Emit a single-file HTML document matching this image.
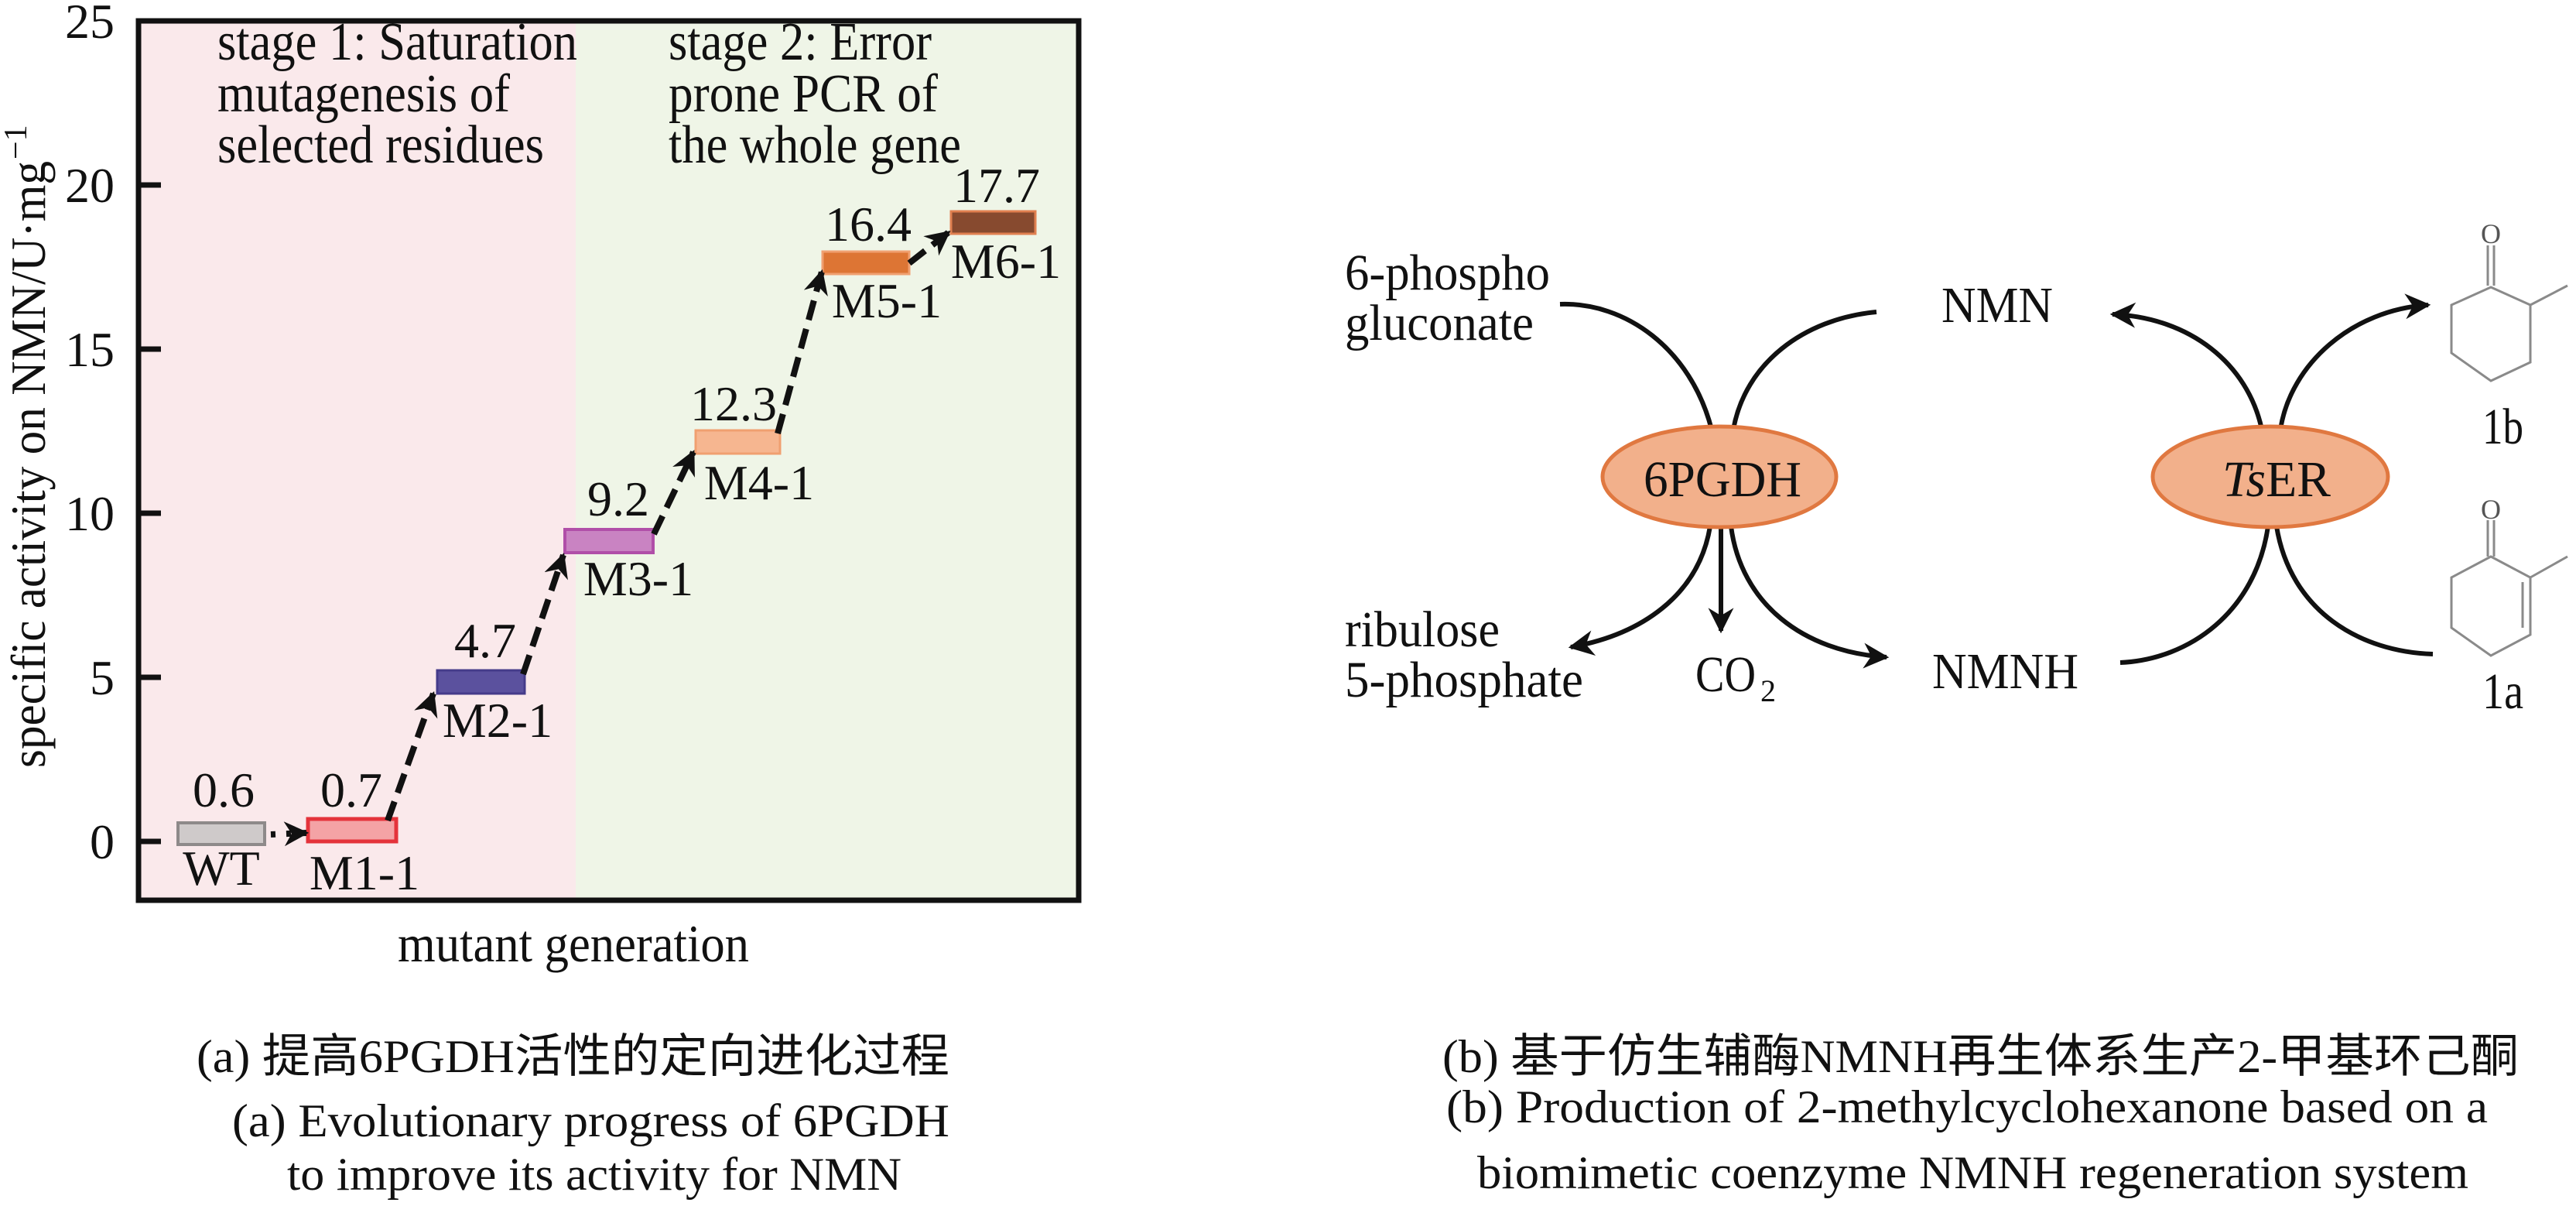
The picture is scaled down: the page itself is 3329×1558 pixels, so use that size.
<!DOCTYPE html>
<html><head><meta charset="utf-8"><style>
html,body{margin:0;padding:0;background:#fff;}
svg{display:block;}
text{font-family:"Liberation Serif","Noto Serif CJK SC",serif;fill:#111;}
.cjk{font-family:"Liberation Serif","Noto Sans CJK SC",serif;}
</style></head><body>
<svg width="3329" height="1558" viewBox="0 0 3329 1558" xmlns="http://www.w3.org/2000/svg">
<defs>
<marker id="ah" viewBox="0 0 10 10" refX="9" refY="5" markerWidth="4" markerHeight="4" orient="auto" markerUnits="strokeWidth">
<path d="M0,0 L10,5 L0,10 L3,5 Z" fill="#111"/></marker>
<marker id="ah2" viewBox="0 0 10 10" refX="9" refY="5" markerWidth="5.5" markerHeight="5.5" orient="auto" markerUnits="strokeWidth">
<path d="M0,0 L10,5 L0,10 L3,5 Z" fill="#111"/></marker>
</defs>
<rect x="180" y="28" width="564" height="1134" fill="#fae9eb"/>
<rect x="744" y="28" width="649" height="1134" fill="#eff5e7"/>
<rect x="179" y="27" width="1215" height="1136" fill="none" stroke="#111" stroke-width="7"/>
<g stroke="#111" stroke-width="7">
<line x1="180" y1="239" x2="208" y2="239"/>
<line x1="180" y1="451" x2="208" y2="451"/>
<line x1="180" y1="663" x2="208" y2="663"/>
<line x1="180" y1="875" x2="208" y2="875"/>
<line x1="180" y1="1087" x2="208" y2="1087"/>
</g>
<g font-size="64" text-anchor="end">
<text x="148" y="49">25</text>
<text x="148" y="261">20</text>
<text x="148" y="473">15</text>
<text x="148" y="685">10</text>
<text x="148" y="897">5</text>
<text x="148" y="1109">0</text>
</g>
<text transform="translate(58,992) rotate(-90)" font-size="64" textLength="784" lengthAdjust="spacingAndGlyphs">specific activity on NMN/U·mg</text>
<text transform="translate(34,206) rotate(-90)" font-size="42">−1</text>
<text x="514" y="1242" font-size="68" textLength="454" lengthAdjust="spacingAndGlyphs">mutant generation</text>
<g font-size="70">
<text x="281" y="77" textLength="465" lengthAdjust="spacingAndGlyphs">stage 1: Saturation</text>
<text x="281" y="144" textLength="378" lengthAdjust="spacingAndGlyphs">mutagenesis of</text>
<text x="281" y="210" textLength="422" lengthAdjust="spacingAndGlyphs">selected residues</text>
<text x="864" y="77" textLength="340" lengthAdjust="spacingAndGlyphs">stage 2: Error</text>
<text x="864" y="144" textLength="348" lengthAdjust="spacingAndGlyphs">prone PCR of</text>
<text x="864" y="210" textLength="378" lengthAdjust="spacingAndGlyphs">the whole gene</text>
</g>
<rect x="230" y="1063" width="112" height="28" fill="#cfcaca" stroke="#8e8a8a" stroke-width="4"/>
<rect x="398" y="1058" width="114" height="29" fill="#f4a3a5" stroke="#e4333b" stroke-width="5"/>
<rect x="565" y="866" width="113" height="30" fill="#5b519e" stroke="#453b8a" stroke-width="3"/>
<rect x="730" y="684" width="114" height="30" fill="#c983c2" stroke="#b04fa8" stroke-width="4"/>
<rect x="899" y="556" width="109" height="30" fill="#f6b690" stroke="#f0a070" stroke-width="3"/>
<rect x="1063" y="325" width="112" height="29" fill="#dd7534" stroke="#f0a070" stroke-width="3"/>
<rect x="1229" y="273" width="109" height="29" fill="#874a2f" stroke="#e08050" stroke-width="3"/>
<g font-size="64" text-anchor="middle">
<text x="289" y="1042">0.6</text>
<text x="454" y="1042">0.7</text>
<text x="627" y="849">4.7</text>
<text x="799" y="666">9.2</text>
<text x="948" y="543">12.3</text>
<text x="1122" y="311">16.4</text>
<text x="1288" y="261">17.7</text>
<text x="286" y="1143">WT</text>
<text x="471" y="1149">M1-1</text>
<text x="643" y="952">M2-1</text>
<text x="825" y="769">M3-1</text>
<text x="981" y="645">M4-1</text>
<text x="1146" y="410">M5-1</text>
<text x="1300" y="359">M6-1</text>
</g>
<g stroke="#111" stroke-width="8" fill="none" stroke-dasharray="26 12" marker-end="url(#ah)">
<line x1="350" y1="1078" x2="396" y2="1076" stroke-dasharray="6 14"/>
<line x1="501" y1="1060" x2="560" y2="896"/>
<line x1="676" y1="871" x2="728" y2="717"/>
<line x1="845" y1="690" x2="896" y2="584"/>
<line x1="1005" y1="560" x2="1062" y2="351"/>
<line x1="1175" y1="340" x2="1226" y2="300"/>
</g>
<g stroke="#111" stroke-width="6" fill="none">
<path d="M2016,393 C2100,390 2185,450 2212,555"/>
<path d="M2425,403 C2330,412 2255,470 2240,555"/>
<path d="M2210,680 C2195,770 2120,820 2030,836" marker-end="url(#ah2)"/>
<path d="M2224,680 L2224,815" marker-end="url(#ah2)"/>
<path d="M2237,680 C2250,780 2330,842 2438,849" marker-end="url(#ah2)"/>
<path d="M2923,555 C2905,470 2830,410 2730,406" marker-end="url(#ah2)"/>
<path d="M2947,555 C2960,470 3040,400 3138,394" marker-end="url(#ah2)"/>
<path d="M2931,680 C2915,790 2830,852 2740,856"/>
<path d="M2942,680 C2960,790 3050,842 3144,845"/>
</g>
<ellipse cx="2222" cy="616" rx="151" ry="65" fill="#f2b08b" stroke="#e07840" stroke-width="5"/>
<ellipse cx="2934" cy="616" rx="152" ry="65" fill="#f2b08b" stroke="#e07840" stroke-width="5"/>
<g font-size="66">
<text x="2124" y="641" textLength="204" lengthAdjust="spacingAndGlyphs">6PGDH</text>
<text x="2872" y="641" textLength="140" lengthAdjust="spacingAndGlyphs"><tspan font-style="italic">Ts</tspan>ER</text>
<text x="1738" y="374" textLength="265" lengthAdjust="spacingAndGlyphs">6-phospho</text>
<text x="1738" y="439" textLength="244" lengthAdjust="spacingAndGlyphs">gluconate</text>
<text x="2509" y="416" textLength="144" lengthAdjust="spacingAndGlyphs">NMN</text>
<text x="1738" y="835" textLength="200" lengthAdjust="spacingAndGlyphs">ribulose</text>
<text x="1738" y="900" textLength="308" lengthAdjust="spacingAndGlyphs">5-phosphate</text>
<text x="2191" y="893" textLength="78" lengthAdjust="spacingAndGlyphs">CO</text>
<text x="2275" y="906" font-size="40">2</text>
<text x="2497" y="889" textLength="189" lengthAdjust="spacingAndGlyphs">NMNH</text>
<text x="3208" y="573" textLength="53" lengthAdjust="spacingAndGlyphs">1b</text>
<text x="3208" y="915" textLength="53" lengthAdjust="spacingAndGlyphs">1a</text>
</g>
<g stroke="#8a8a8a" stroke-width="3" fill="none">
<path d="M3215,317 L3215,369 M3223,317 L3223,369"/>
<path d="M3219,371 L3270,394 L3270,468 L3219,492 L3168,456 L3168,394 Z"/>
<path d="M3270,394 L3318,369"/>
<path d="M3215,672 L3215,719 M3223,672 L3223,719"/>
<path d="M3219,719 L3270,746 L3270,820 L3219,847 L3168,811 L3168,746 Z"/>
<path d="M3260,752 L3260,811"/>
<path d="M3270,746 L3318,719"/>
</g>
<g font-size="36" text-anchor="middle">
<text x="3219" y="314" style="fill:#555">O</text>
<text x="3219" y="670" style="fill:#555">O</text>
</g>
<g font-size="60">
<text class="cjk" x="254" y="1385" textLength="973" lengthAdjust="spacingAndGlyphs">(a) 提高6PGDH活性的定向进化过程</text>
<text x="300" y="1468" textLength="927" lengthAdjust="spacingAndGlyphs">(a) Evolutionary progress of 6PGDH</text>
<text x="371" y="1537" textLength="794" lengthAdjust="spacingAndGlyphs">to improve its activity for NMN</text>
<text class="cjk" x="1864" y="1385" textLength="1391" lengthAdjust="spacingAndGlyphs">(b) 基于仿生辅酶NMNH再生体系生产2-甲基环己酮</text>
<text x="1869" y="1450" textLength="1346" lengthAdjust="spacingAndGlyphs">(b)  Production of 2-methylcyclohexanone based on a</text>
<text x="1909" y="1535" textLength="1281" lengthAdjust="spacingAndGlyphs">biomimetic coenzyme NMNH regeneration system</text>
</g>
</svg>
</body></html>
